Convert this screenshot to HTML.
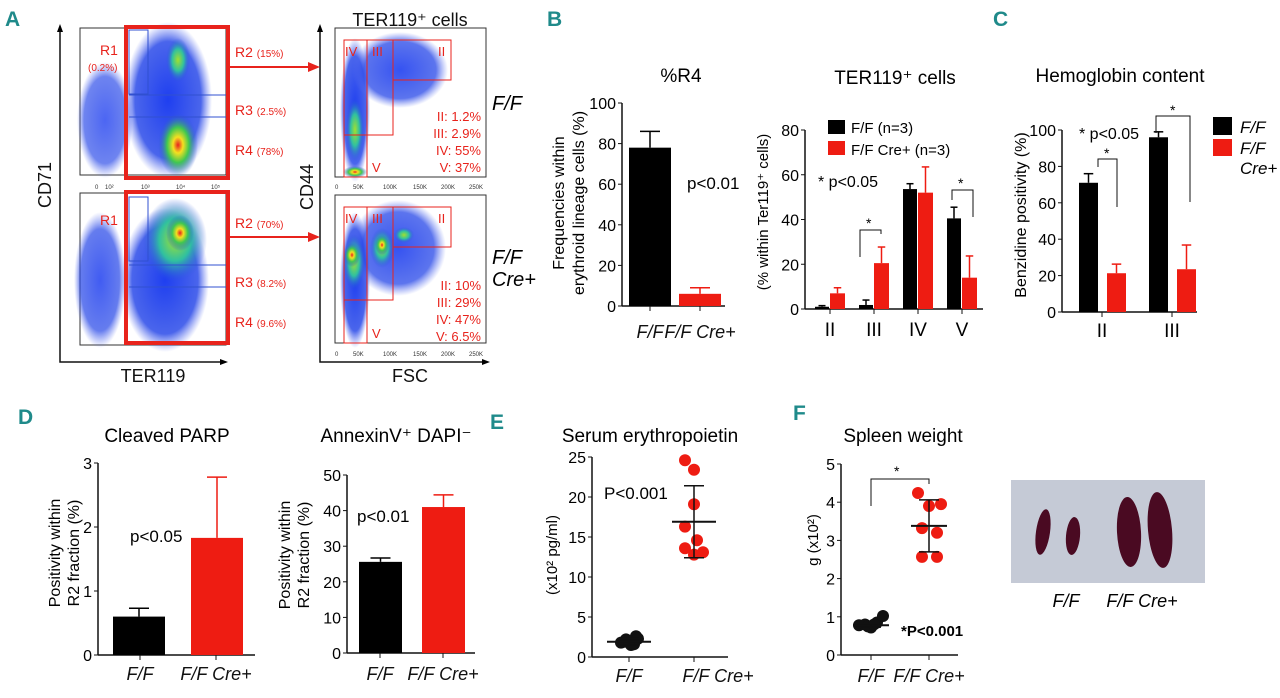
<!DOCTYPE html>
<html><head><meta charset="utf-8">
<style>
html,body{margin:0;padding:0;background:#fff;}
svg{display:block;font-family:"Liberation Sans",sans-serif;}
.pl{fill:#1f8a8a;font-weight:bold;font-size:21px;}
.t{font-size:18px;fill:#111;}
.cat{font-size:18px;fill:#111;font-style:italic;}
.red{fill:#e8231c;}
.sm{font-size:6px;fill:#333;}
</style></head><body>
<svg id="fig" width="1280" height="698" viewBox="0 0 1280 698">
<defs>
<radialGradient id="hot" cx="50%" cy="50%" r="50%">
<stop offset="0" stop-color="#e82020"/><stop offset="0.25" stop-color="#f5e020"/><stop offset="0.55" stop-color="#40c850"/><stop offset="1" stop-color="#2a4de0" stop-opacity="0"/></radialGradient>
<radialGradient id="grn" cx="50%" cy="50%" r="50%">
<stop offset="0" stop-color="#a0e030"/><stop offset="0.5" stop-color="#30c0a0"/><stop offset="1" stop-color="#2a4de0" stop-opacity="0"/></radialGradient>
<radialGradient id="blu" cx="50%" cy="50%" r="50%">
<stop offset="0" stop-color="#1f3ff0" stop-opacity="1"/><stop offset="0.75" stop-color="#2a4ae8" stop-opacity="0.85"/><stop offset="1" stop-color="#5a70f0" stop-opacity="0"/></radialGradient>
</defs>
<g id="panelA">
<text class="pl" x="5" y="26">A</text>
<text class="t" x="51" y="185" font-size="20" transform="rotate(-90 51 185)" text-anchor="middle">CD71</text>
<text class="t" x="153" y="382" font-size="20" text-anchor="middle">TER119</text>
<text class="t" x="313" y="187" font-size="20" transform="rotate(-90 313 187)" text-anchor="middle">CD44</text>
<text class="t" x="410" y="382" font-size="20" text-anchor="middle">FSC</text>
<text class="t" x="410" y="26" font-size="19" text-anchor="middle">TER119⁺ cells</text>
<path d="M60 30 V362 H222" fill="none" stroke="#111" stroke-width="1.5"/><polygon points="57,32 60,24 63,32"/><polygon points="220,359 228,362 220,365"/>
<path d="M320 30 V362 H484" fill="none" stroke="#111" stroke-width="1.5"/><polygon points="317,32 320,24 323,32"/><polygon points="482,359 490,362 482,365"/>
<g class="sm"><text x="95" y="189">0</text><text x="105" y="189">10²</text><text x="141" y="189">10³</text><text x="176" y="189">10⁴</text><text x="211" y="189">10⁵</text>
<text x="335" y="189">0</text><text x="353" y="189">50K</text><text x="383" y="189">100K</text><text x="413" y="189">150K</text><text x="441" y="189">200K</text><text x="469" y="189">250K</text>
<text x="335" y="356">0</text><text x="353" y="356">50K</text><text x="383" y="356">100K</text><text x="413" y="356">150K</text><text x="441" y="356">200K</text><text x="469" y="356">250K</text></g>
<g>
<rect x="80" y="28" width="146" height="147" fill="#fff" stroke="#333"/>
<ellipse cx="105" cy="120" rx="28" ry="58" fill="url(#blu)" opacity="0.8"/>
<ellipse cx="168" cy="100" rx="44" ry="78" fill="url(#blu)"/>
<ellipse cx="178" cy="60" rx="12" ry="22" fill="url(#grn)"/>
<ellipse cx="178" cy="145" rx="20" ry="32" fill="url(#hot)"/>
<rect x="129" y="30" width="19" height="64" fill="none" stroke="#3050d0"/>
<line x1="129" y1="95" x2="226" y2="95" stroke="#3050d0"/><line x1="129" y1="117" x2="226" y2="117" stroke="#3050d0"/>
<rect x="126" y="27" width="102" height="151" fill="none" stroke="#e8231c" stroke-width="4"/>
<text x="100" y="55" class="red" font-size="14">R1</text><text x="88" y="71" class="red" font-size="10">(0.2%)</text>
</g>
<g>
<rect x="80" y="193" width="146" height="152" fill="#fff" stroke="#333"/>
<ellipse cx="100" cy="280" rx="26" ry="68" fill="url(#blu)" opacity="0.85"/>
<ellipse cx="165" cy="280" rx="44" ry="72" fill="url(#blu)"/>
<ellipse cx="175" cy="240" rx="32" ry="42" fill="url(#grn)"/>
<ellipse cx="180" cy="233" rx="14" ry="18" fill="url(#hot)"/>
<rect x="129" y="197" width="19" height="64" fill="none" stroke="#3050d0"/>
<line x1="129" y1="265" x2="226" y2="265" stroke="#3050d0"/><line x1="129" y1="287" x2="226" y2="287" stroke="#3050d0"/>
<rect x="126" y="192" width="102" height="151" fill="none" stroke="#e8231c" stroke-width="4"/>
<text x="100" y="225" class="red" font-size="14">R1</text>
</g>
<g font-size="14" class="red">
<text x="235" y="57">R2 <tspan font-size="10">(15%)</tspan></text>
<text x="235" y="115">R3 <tspan font-size="10">(2.5%)</tspan></text>
<text x="235" y="155">R4 <tspan font-size="10">(78%)</tspan></text>
<text x="235" y="228">R2 <tspan font-size="10">(70%)</tspan></text>
<text x="235" y="287">R3 <tspan font-size="10">(8.2%)</tspan></text>
<text x="235" y="327">R4 <tspan font-size="10">(9.6%)</tspan></text>
</g>
<line x1="228" y1="67" x2="310" y2="67" stroke="#e8231c" stroke-width="2"/><polygon points="308,62 320,67 308,72" fill="#e8231c"/>
<line x1="228" y1="237" x2="310" y2="237" stroke="#e8231c" stroke-width="2"/><polygon points="308,232 320,237 308,242" fill="#e8231c"/>
<g>
<rect x="335" y="28" width="151" height="149" fill="#fff" stroke="#333"/>
<ellipse cx="355" cy="110" rx="15" ry="72" fill="url(#blu)"/>
<ellipse cx="400" cy="70" rx="48" ry="38" fill="url(#blu)" opacity="0.9"/>
<ellipse cx="355" cy="130" rx="9" ry="32" fill="url(#grn)"/>
<ellipse cx="355" cy="172" rx="12" ry="6" fill="url(#hot)"/>
<rect x="344" y="40" width="23" height="95" fill="none" stroke="#e8231c"/>
<rect x="367" y="40" width="26" height="95" fill="none" stroke="#e8231c"/>
<rect x="393" y="40" width="58" height="40" fill="none" stroke="#e8231c"/>
<rect x="344" y="135" width="23" height="42" fill="none" stroke="#e8231c"/>
<g class="red" font-size="13"><text x="345" y="56">IV</text><text x="372" y="56">III</text><text x="438" y="56">II</text><text x="372" y="172">V</text>
<g text-anchor="end"><text x="481" y="121">II: 1.2%</text><text x="481" y="138">III: 2.9%</text><text x="481" y="155">IV:  55%</text><text x="481" y="172">V:  37%</text></g></g>
</g>
<g>
<rect x="335" y="195" width="151" height="148" fill="#fff" stroke="#333"/>
<ellipse cx="355" cy="280" rx="15" ry="68" fill="url(#blu)"/>
<ellipse cx="398" cy="248" rx="48" ry="48" fill="url(#blu)" opacity="0.9"/>
<ellipse cx="354" cy="262" rx="11" ry="28" fill="url(#grn)"/>
<ellipse cx="352" cy="255" rx="8" ry="12" fill="url(#hot)"/>
<ellipse cx="382" cy="248" rx="12" ry="20" fill="url(#grn)"/>
<ellipse cx="382" cy="245" rx="7" ry="10" fill="url(#hot)"/>
<ellipse cx="404" cy="235" rx="10" ry="8" fill="url(#grn)"/>
<rect x="344" y="207" width="23" height="93" fill="none" stroke="#e8231c"/>
<rect x="367" y="207" width="26" height="93" fill="none" stroke="#e8231c"/>
<rect x="393" y="207" width="58" height="40" fill="none" stroke="#e8231c"/>
<rect x="344" y="300" width="23" height="43" fill="none" stroke="#e8231c"/>
<g class="red" font-size="13"><text x="345" y="223">IV</text><text x="372" y="223">III</text><text x="438" y="223">II</text><text x="372" y="338">V</text>
<g text-anchor="end"><text x="481" y="290">II:  10%</text><text x="481" y="307">III:  29%</text><text x="481" y="324">IV:  47%</text><text x="481" y="341">V: 6.5%</text></g></g>
</g>
<text x="492" y="110" font-size="20" font-style="italic">F/F</text>
<text x="492" y="264" font-size="20" font-style="italic">F/F</text>
<text x="492" y="286" font-size="20" font-style="italic">Cre+</text>
</g>
<g id="charts"></g>
<g>
<rect x="1011" y="480" width="194" height="103" fill="#c5cad6"/>
<ellipse cx="1043" cy="532" rx="7" ry="23" fill="#4a0a22" transform="rotate(8 1043 532)"/>
<ellipse cx="1073" cy="536" rx="7" ry="19" fill="#4a0a22" transform="rotate(5 1073 536)"/>
<ellipse cx="1129" cy="532" rx="12" ry="35" fill="#4a0a22" transform="rotate(-3 1129 532)"/>
<ellipse cx="1160" cy="530" rx="12" ry="38" fill="#4a0a22" transform="rotate(-5 1160 530)"/>
<text x="1066" y="607" font-size="18" font-style="italic" text-anchor="middle">F/F</text>
<text x="1142" y="607" font-size="18" font-style="italic" text-anchor="middle">F/F Cre+</text>
</g>
</svg>
<script>
// Data
const r4Cats=["F/F","F/F Cre+"];
const r4Vals=[78,6];
const r4Err=[8,3];
const terCats=["II","III","IV","V"];
const terFF=[1,1.8,53.6,40.5];
const terCre=[7,20.5,52,14];
const terFFe=[0.5,2.2,2.4,5];
const terCreE=[2.5,7.2,11.5,9.7];
const hbCats=["II","III"];
const hbFF=[71,96];
const hbCre=[21.3,23.5];
const hbFFe=[5,3];
const hbCreE=[5,13.3];
const parpVals=[0.6,1.83];
const parpErr=[0.13,0.95];
const annVals=[25.6,41];
const annErr=[1.1,3.4];
const epoFF=[1.8,2.2,1.5,2.6,1.9,2.0,1.6,2.3];
const epoCre=[24.6,23.4,19.1,16.3,14.6,13.6,13.1,12.8];
const epoMean=[1.9,16.9];
const epoSd=[0.4,4.5];
const splFF=[0.78,0.8,0.72,0.85,1.02,0.75,0.8];
const splCre=[4.24,3.95,3.9,3.32,3.2,2.57,2.57];
const splMean=[0.78,3.38];
const splSd=[0.05,0.68];

const NS="http://www.w3.org/2000/svg";
const root=document.getElementById('charts');
function mk(tag,at,parent){const e=document.createElementNS(NS,tag);for(const k in at)e.setAttribute(k,at[k]);(parent||root).appendChild(e);return e;}
function txt(x,y,s,at,parent){const e=mk('text',Object.assign({x:x,y:y},at||{}),parent);e.textContent=s;return e;}
function axis(name,x0,yTop,yBot,max,step,xEnd){
  const g=mk('g',{});
  
  
  const y=v=>yBot-(v/max)*(yBot-yTop);
  mk('line',{x1:x0,y1:yTop,x2:x0,y2:yBot,stroke:'#111','stroke-width':1.5},g);
  mk('line',{x1:x0,y1:yBot,x2:xEnd,y2:yBot,stroke:'#111','stroke-width':1.5},g);
  for(let v=0;v<=max+1e-9;v+=step){mk('line',{x1:x0-4,y1:y(v),x2:x0,y2:y(v),stroke:'#111'},g);
    txt(x0-6,y(v)+6,String(v),{'text-anchor':'end','font-size':16},g);}
  return y;
}
function xtick(x,yb){mk('line',{x1:x,y1:yb,x2:x,y2:yb+5,stroke:'#111'});}
function bar(name,x,w,y,yb,v,e,color){
  const g=mk('g',{});
  
  
  mk('rect',{x:x,y:y(v),width:w,height:yb-y(v),fill:color},g);
  const cx=x+w/2;
  mk('line',{x1:cx,y1:y(v),x2:cx,y2:y(v+e),stroke:color,'stroke-width':1.5},g);
  mk('line',{x1:cx-Math.min(w/4,10),y1:y(v+e),x2:cx+Math.min(w/4,10),y2:y(v+e),stroke:color,'stroke-width':1.5},g);
}
const RED='#ee1c12',BLK='#000';
function lbl(x,y,s){const t=txt(x,y,s,{class:'pl'});}
lbl(547,26,'B');lbl(993,26,'C');lbl(18,424,'D');lbl(490,429,'E');lbl(793,420,'F');
function vlab(x,y,s,fs){txt(x,y,s,{'font-size':fs||16,'text-anchor':'middle',transform:'rotate(-90 '+x+' '+y+')'});}

// B %R4
txt(681,82,'%R4',{'font-size':19,'text-anchor':'middle'});
let y=axis('r4-y-axis',622,103,306,100,20,725);
r4Vals.forEach((v,i)=>bar('r4-bar-'+i,629+i*50,42,y,306,v,r4Err[i],i?RED:BLK));
xtick(650,306);xtick(700,306);
txt(650,338,'F/F',{class:'cat','text-anchor':'middle'});txt(700,338,'F/F Cre+',{class:'cat','text-anchor':'middle'});
txt(687,189,'p<0.01',{'font-size':17});
vlab(564,203,'Frequencies within');vlab(584,203,'erythroid lineage cells (%)');
// B TER119
txt(895,84,'TER119⁺ cells',{'font-size':19,'text-anchor':'middle'});
y=axis('ter119-y-axis',805,130,309,80,20,983);
terCats.forEach((c,i)=>{const cx=830+i*44;
  bar('ter-ff-bar-'+c,cx-15,14,y,309,terFF[i],terFFe[i],BLK);
  bar('ter-cre-bar-'+c,cx,15,y,309,terCre[i],terCreE[i],RED);
  xtick(cx,309);
  txt(cx,336,c,{'font-size':19,'text-anchor':'middle'});});
vlab(768,212,'(% within Ter119⁺ cells)',15);
mk('rect',{x:828,y:120,width:17,height:14,fill:BLK});txt(851,133,'F/F (n=3)',{'font-size':15});
mk('rect',{x:828,y:141,width:17,height:14,fill:RED});txt(851,155,'F/F Cre+ (n=3)',{'font-size':15});
txt(818,187,'* p<0.05',{'font-size':16});
mk('path',{d:'M860 257 V230 H881 V234',fill:'none',stroke:'#111'});txt(866,228,'*',{'font-size':14});
mk('path',{d:'M952 200 V190 H973 V217',fill:'none',stroke:'#111'});txt(958,188,'*',{'font-size':14});
// C
txt(1120,82,'Hemoglobin content',{'font-size':19,'text-anchor':'middle'});
y=axis('hb-y-axis',1062,130,312,100,20,1197);
hbCats.forEach((c,i)=>{const cx=1102+i*70;
  bar('hb-ff-bar-'+c,cx-23,19,y,312,hbFF[i],hbFFe[i],BLK);
  bar('hb-cre-bar-'+c,cx+5,19,y,312,hbCre[i],hbCreE[i],RED);
  xtick(cx,312);
  txt(cx,337,c,{'font-size':19,'text-anchor':'middle'});});
vlab(1026,215,'Benzidine positivity (%)');
txt(1079,139,'* p<0.05',{'font-size':16});
mk('path',{d:'M1098 167 V159 H1117 V207',fill:'none',stroke:'#111'});txt(1104,158,'*',{'font-size':14});
mk('path',{d:'M1156 133 V116 H1190 V202',fill:'none',stroke:'#111'});txt(1170,115,'*',{'font-size':14});
mk('rect',{x:1213,y:117,width:19,height:18,fill:BLK});txt(1240,133,'F/F',{'font-size':17,'font-style':'italic'});
mk('rect',{x:1213,y:139,width:19,height:17,fill:RED});txt(1240,154,'F/F',{'font-size':17,'font-style':'italic'});txt(1240,174,'Cre+',{'font-size':17,'font-style':'italic'});
// D PARP
txt(167,442,'Cleaved PARP',{'font-size':19,'text-anchor':'middle'});
y=axis('parp-y-axis',98,463,655,3,1,255);
parpVals.forEach((v,i)=>bar('parp-bar-'+i,113+i*78,52,y,655,v,parpErr[i],i?RED:BLK));
xtick(140,655);xtick(216,655);
txt(140,680,'F/F',{class:'cat','text-anchor':'middle'});txt(216,680,'F/F Cre+',{class:'cat','text-anchor':'middle'});
txt(130,542,'p<0.05',{'font-size':17});
vlab(60,553,'Positivity within');vlab(79,553,'R2 fraction (%)');
// D Annexin
txt(396,442,'AnnexinV⁺ DAPI⁻',{'font-size':19,'text-anchor':'middle'});
y=axis('annexin-y-axis',347,475,653,50,10,475);
annVals.forEach((v,i)=>bar('annexin-bar-'+i,359+i*63,43,y,653,v,annErr[i],i?RED:BLK));
xtick(380,653);xtick(443,653);
txt(380,680,'F/F',{class:'cat','text-anchor':'middle'});txt(443,680,'F/F Cre+',{class:'cat','text-anchor':'middle'});
txt(357,522,'p<0.01',{'font-size':17});
vlab(290,555,'Positivity within');vlab(309,555,'R2 fraction (%)');
// E
txt(650,442,'Serum erythropoietin',{'font-size':19,'text-anchor':'middle'});
y=axis('epo-y-axis',592,457,657,25,5,728);
function dots(arr,cx,col,nm,off){arr.forEach((v,i)=>{const c=mk('circle',{cx:cx+off[i%off.length],cy:y(v),r:6,fill:col});});}
function errs(cxs,mean,sd,w){cxs.forEach((cx,i)=>{mk('line',{x1:cx-w,y1:y(mean[i]),x2:cx+w,y2:y(mean[i]),stroke:'#111','stroke-width':2});
 mk('line',{x1:cx,y1:y(mean[i]-sd[i]),x2:cx,y2:y(mean[i]+sd[i]),stroke:'#111','stroke-width':1.5});
 [-1,1].forEach(s=>mk('line',{x1:cx-10,y1:y(mean[i]+s*sd[i]),x2:cx+10,y2:y(mean[i]+s*sd[i]),stroke:'#111','stroke-width':1.5}));});}
dots(epoFF,629,'#111','epo-ff',[-8,-3,2,7,-5,0,5,9]);
dots(epoCre,694,RED,'epo-cre',[-9,0,0,-9,3,-9,9,0]);
errs([629,694],epoMean,epoSd,22);
xtick(629,657);xtick(694,657);
txt(629,682,'F/F',{class:'cat','text-anchor':'middle'});txt(718,682,'F/F Cre+',{class:'cat','text-anchor':'middle'});
txt(604,499,'P<0.001',{'font-size':17});
vlab(557,555,'(x10² pg/ml)',15);
// F
txt(903,442,'Spleen weight',{'font-size':19,'text-anchor':'middle'});
y=axis('spleen-y-axis',841,464,655,5,1,958);
dots(splFF,871,'#111','spleen-ff',[-12,-6,0,6,12,-3,3]);
dots(splCre,929,RED,'spleen-cre',[-11,12,0,-7,8,-7,8]);
errs([871,929],splMean,splSd,18);
mk('path',{d:'M871 506 V479 H929 V484',fill:'none',stroke:'#111'});txt(894,476,'*',{'font-size':14});
txt(901,636,'*P<0.001',{'font-size':15,'font-weight':'bold'});
xtick(871,655);xtick(929,655);
txt(871,682,'F/F',{class:'cat','text-anchor':'middle'});txt(929,682,'F/F Cre+',{class:'cat','text-anchor':'middle'});
vlab(818,540,'g (x10²)',15);
</script>
</body></html>
